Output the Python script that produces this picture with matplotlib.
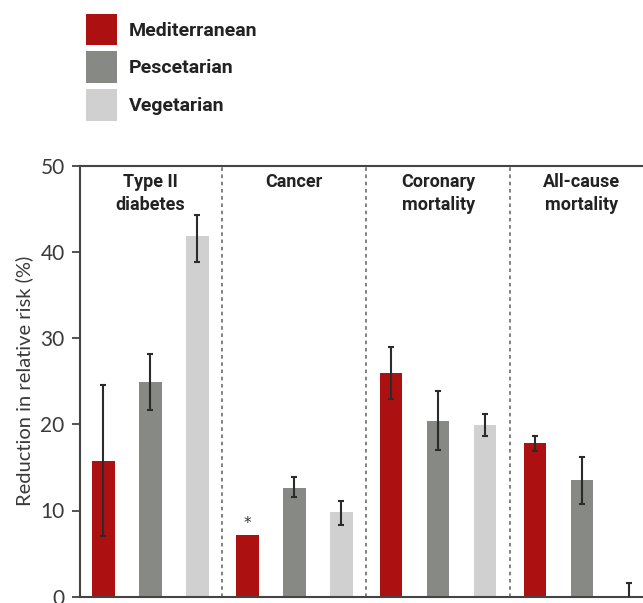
import matplotlib
matplotlib.use("Agg")
import matplotlib.pyplot as plt
import numpy as np

# Outcome groups and diet series
groups = ["Type II\ndiabetes", "Cancer", "Coronary\nmortality", "All-cause\nmortality"]
diets = ["Mediterranean", "Pescetarian", "Vegetarian"]
colors = ["#ad1010", "#878985", "#d0d0d0"]

# Reduction in relative risk (%) per diet, ordered by group
mediterranean = [15.8, 7.1, 25.9, 17.8]
pescetarian = [24.9, 12.6, 20.4, 13.5]
vegetarian = [41.8, 9.8, 19.9, 0.0]

# Confidence-interval bounds (low, high); None where no interval is shown
mediterranean_ci = [(7.0, 24.6), None, (22.9, 29.0), (16.9, 18.6)]
pescetarian_ci = [(21.7, 28.1), (11.6, 13.9), (17.0, 23.9), (10.8, 16.2)]
vegetarian_ci = [(38.8, 44.3), (8.3, 11.1), (18.6, 21.2), (-1.55, 1.55)]

series = [mediterranean, pescetarian, vegetarian]
series_ci = [mediterranean_ci, pescetarian_ci, vegetarian_ci]

fig = plt.figure(figsize=(6.43, 6.03), dpi=100)
ax = fig.add_axes([80 / 643, 6.3 / 603, 563 / 643, 431 / 603])

title_font = ["Roboto", "DejaVu Sans"]
tick_font = ["Lato", "DejaVu Sans"]

group_step = 3.06
bar_w = 0.48
centers = np.arange(len(groups)) * group_step

handles = []
for j, (vals, cis, col) in enumerate(zip(series, series_ci, colors)):
    xs = centers + (j - 1)
    b = ax.bar(xs, vals, width=bar_w, color=col, zorder=2, label=diets[j])
    handles.append(b)
    for x, v, ci in zip(xs, vals, cis):
        if ci is None:
            continue
        lo, hi = ci
        ax.errorbar(x, v, yerr=[[v - lo], [hi - v]], fmt="none",
                    ecolor="#2b2b2b", elinewidth=1.5, capsize=2.5,
                    capthick=1.5, zorder=3)

# Marker for the cancer estimate without an interval
ax.text(centers[1] - 1, mediterranean[1] + 0.5, "*", ha="center", va="bottom",
        fontsize=11, color="#333333")

# Dotted separators between outcome groups
for k in range(len(groups) - 1):
    ax.axvline((centers[k] + centers[k + 1]) / 2, color="#777777",
               linewidth=1.3, linestyle=(0, (2, 2)), zorder=1)

# Group headings
for c, g in zip(centers, groups):
    ax.text(c, 49.1, g, ha="center", va="top", fontsize=13,
            fontweight="bold", family=title_font, color="#222222",
            linespacing=1.3)

ax.set_xlim(-1.5, 10.48)
ax.set_ylim(0, 50)
ax.set_xticks([])
ax.set_yticks(np.arange(0, 51, 10))
for lab in ax.get_yticklabels():
    lab.set_family(tick_font)
    lab.set_fontsize(15)
    lab.set_color("#3a3a3a")
ax.tick_params(axis="y", direction="out", length=6, width=1.3,
               color="#444444", pad=5)
ax.set_ylabel("Reduction in relative risk (%)", fontsize=14.5,
              family=tick_font, color="#3a3a3a", labelpad=5)

for side in ["left", "top", "bottom"]:
    ax.spines[side].set_color("#444444")
    ax.spines[side].set_linewidth(1.5)
ax.spines["right"].set_visible(False)

leg = fig.legend(handles=handles, labels=diets, loc="upper left",
                 bbox_to_anchor=(78 / 643, 1 - 6 / 603),
                 frameon=False, handlelength=1.6, handleheight=2.1,
                 labelspacing=0.33, handletextpad=0.6, borderaxespad=0,
                 prop={"family": title_font, "weight": "bold", "size": 14})
for t in leg.get_texts():
    t.set_color("#222222")

fig.savefig("out.png", dpi=100)
